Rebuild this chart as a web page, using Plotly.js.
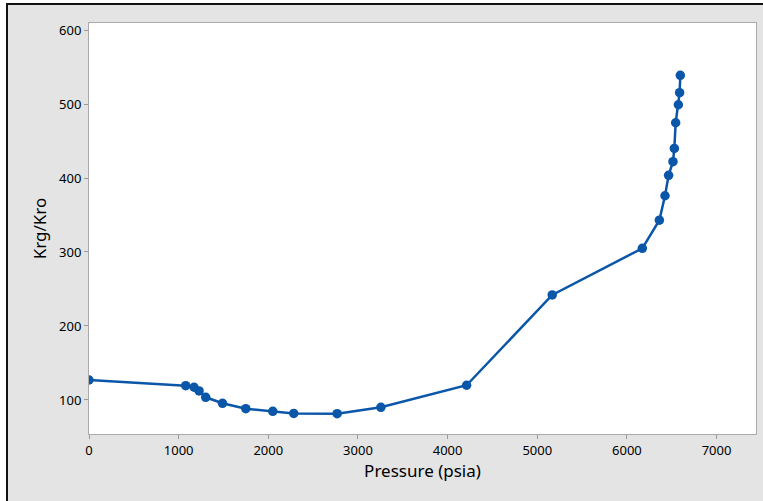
<!DOCTYPE html>
<html>
<head>
<meta charset="utf-8">
<script src="https://cdn.plot.ly/plotly-3.0.1.min.js"></script>
<style>
  html, body { margin: 0; padding: 0; background: #ffffff; width: 763px; height: 501px; overflow: hidden; }
  #frame { position: absolute; left: 6px; top: 3px; border-left: 2px solid #111; border-top: 2px solid #111; }
  #chart { width: 755px; height: 496px; }
</style>
</head>
<body>
<div id="frame"><div id="chart"></div></div>
<script>
const pressure = [0, 1079, 1172, 1228, 1302, 1489, 1749, 2050, 2284, 2768, 3256, 4212, 5167, 6172, 6362, 6425, 6465, 6514, 6529, 6544, 6574, 6588, 6596];
const krgKro  = [127, 119.3, 117.2, 112.2, 103.6, 95.5, 88.2, 84.7, 81.8, 81.5, 90.1, 119.9, 241.9, 305, 343, 376, 403.6, 422, 440, 474.7, 499, 515.3, 538.8];
const xTicks = [0, 1000, 2000, 3000, 4000, 5000, 6000, 7000];
const yTicks = [100, 200, 300, 400, 500, 600];

const trace = {
  x: pressure,
  y: krgKro,
  type: 'scatter',
  mode: 'lines+markers',
  line: { color: '#0a56a8', width: 2.5 },
  marker: { color: '#0a56a8', size: 9.5 },
  cliponaxis: true,
  hoverinfo: 'skip'
};

const fontFam = '"Noto Sans", "Open Sans", sans-serif';

const layout = {
  width: 755,
  height: 496,
  paper_bgcolor: '#e4e4e4',
  plot_bgcolor: '#ffffff',
  margin: { l: 81, r: 7, t: 18, b: 67 },
  showlegend: false,
  font: { family: fontFam, color: '#000000', size: 13 },
  xaxis: {
    range: [0, 7440],
    tickvals: xTicks,
    ticktext: xTicks.map(String),
    ticks: 'outside',
    ticklen: 4,
    tickcolor: '#999999',
    showline: true,
    linecolor: '#aaaaaa',
    linewidth: 1,
    mirror: true,
    showgrid: false,
    zeroline: false,
    tickfont: { family: fontFam, size: 13, color: '#000000' },
    title: { text: 'Pressure (psia)', font: { family: fontFam, size: 17, color: '#000000' }, standoff: 4 }
  },
  yaxis: {
    range: [54, 609.5],
    tickvals: yTicks,
    ticktext: yTicks.map(String),
    ticks: 'outside',
    ticklen: 4,
    tickcolor: '#999999',
    showline: true,
    linecolor: '#aaaaaa',
    linewidth: 1,
    mirror: true,
    showgrid: false,
    zeroline: false,
    tickfont: { family: fontFam, size: 13, color: '#000000' },
    title: { text: 'Krg/Kro', font: { family: fontFam, size: 17, color: '#000000' }, standoff: 8 }
  }
};

Plotly.newPlot('chart', [trace], layout, { staticPlot: true, displayModeBar: false });
</script>
</body>
</html>
